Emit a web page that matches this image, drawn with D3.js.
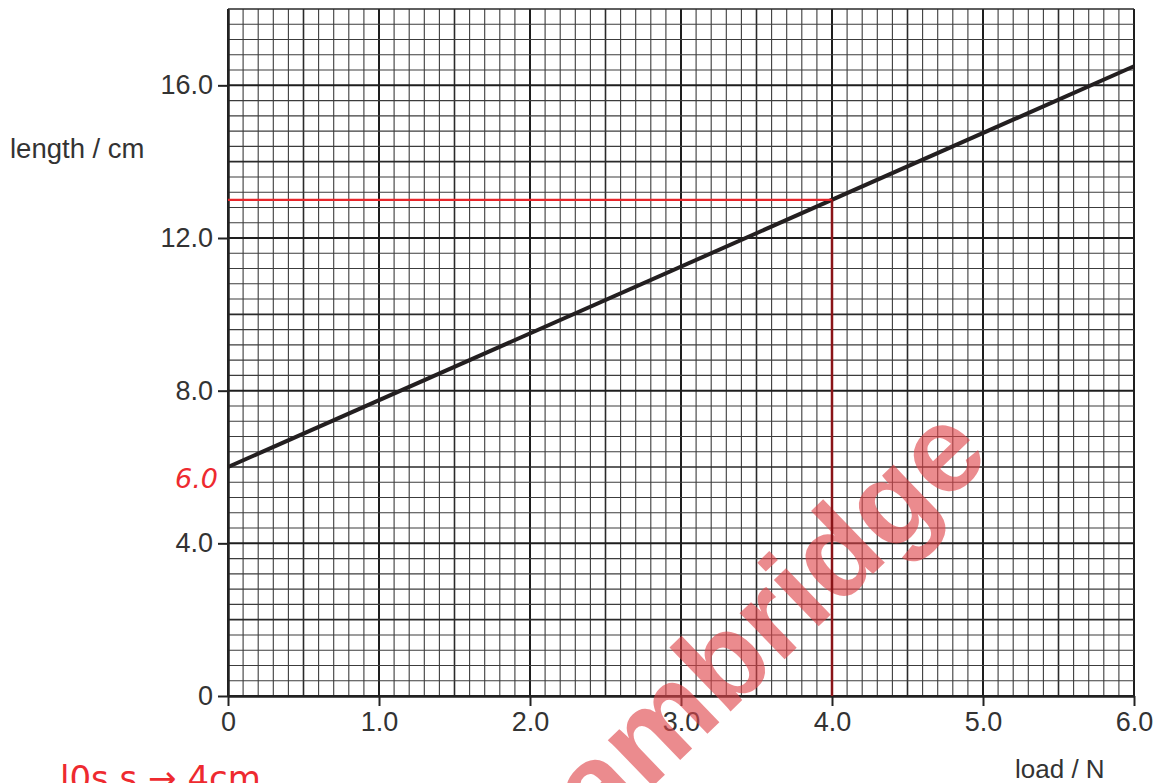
<!DOCTYPE html>
<html>
<head>
<meta charset="utf-8">
<script src="https://cdn.jsdelivr.net/npm/d3@7"></script>
<style>
  html, body { margin: 0; padding: 0; background: #ffffff; }
  svg { display: block; }
</style>
</head>
<body>
<div id="chart"></div>
<script>
// Data
const loads = [0, 6.0];          // load / N
const lengths = [6.0, 16.5];     // length / cm
const readLoad = 4.0;            // construction line read-off
const readLength = 13.0;
const interceptLabel = "6.0";
const xTicks = [0, 1, 2, 3, 4, 5, 6];
const xTickLabels = ["0", "1.0", "2.0", "3.0", "4.0", "5.0", "6.0"];
const yTicks = [0, 4, 8, 12, 16];
const yTickLabels = ["0", "4.0", "8.0", "12.0", "16.0"];

// Dimensions
const width = 1160;
const height = 783;
const margin = { top: 9, right: 26, bottom: 87, left: 228 };

const svg = d3.select("#chart")
  .append("svg")
  .attr("width", width)
  .attr("height", height)
  .style("background", "#ffffff");

// Scales
const x = d3.scaleLinear()
  .domain([0, 6])
  .range([margin.left, width - margin.right]);

const y = d3.scaleLinear()
  .domain([0, 18])
  .range([height - margin.bottom, margin.top]);

const font = "'Liberation Sans', Arial, Helvetica, sans-serif";

// Graph paper grid
const grid = svg.append("g").attr("class", "grid");

// vertical lines every 0.1 N
d3.range(0, 61).forEach(i => {
  const major = i % 10 === 0;
  const mid = i % 5 === 0;
  grid.append("line")
    .attr("x1", x(i / 10))
    .attr("x2", x(i / 10))
    .attr("y1", y(0))
    .attr("y2", y(18))
    .attr("stroke", major ? "#1e1e1e" : mid ? "#2a2a2a" : "#3c3c3c")
    .attr("stroke-width", major ? 2 : mid ? 1.6 : 1.1);
});

// horizontal lines every 0.4 cm
d3.range(0, 46).forEach(i => {
  const major = i % 10 === 0;
  const mid = i % 5 === 0;
  grid.append("line")
    .attr("x1", x(0))
    .attr("x2", x(6))
    .attr("y1", y(i * 0.4))
    .attr("y2", y(i * 0.4))
    .attr("stroke", major ? "#1e1e1e" : mid ? "#2a2a2a" : "#3c3c3c")
    .attr("stroke-width", major ? 2 : mid ? 1.6 : 1.1);
});

// X axis
const xAxis = svg.append("g")
  .attr("transform", `translate(0, ${y(0)})`)
  .call(d3.axisBottom(x)
    .tickValues(xTicks)
    .tickFormat((d, i) => xTickLabels[i])
    .tickSize(10)
    .tickSizeOuter(0)
    .tickPadding(6));

xAxis.select(".domain").attr("stroke", "#222").attr("stroke-width", 2.5);
xAxis.selectAll(".tick line").attr("stroke", "#222").attr("stroke-width", 2);
xAxis.selectAll("text")
  .style("font-family", font)
  .style("font-size", "27px")
  .attr("fill", "#333");

// Y axis
const yAxis = svg.append("g")
  .attr("transform", `translate(${x(0)}, 0)`)
  .call(d3.axisLeft(y)
    .tickValues(yTicks)
    .tickFormat((d, i) => yTickLabels[i])
    .tickSize(10)
    .tickSizeOuter(0)
    .tickPadding(5));

yAxis.select(".domain").attr("stroke", "#222").attr("stroke-width", 2.5);
yAxis.selectAll(".tick line").attr("stroke", "#222").attr("stroke-width", 2);
yAxis.selectAll("text")
  .style("font-family", font)
  .style("font-size", "27px")
  .attr("fill", "#333");

// Axis labels
svg.append("text")
  .attr("x", 10)
  .attr("y", 158)
  .style("font-family", font)
  .style("font-size", "27.5px")
  .attr("fill", "#333")
  .text("length / cm");

svg.append("text")
  .attr("x", 1015)
  .attr("y", 778)
  .style("font-family", font)
  .style("font-size", "26px")
  .attr("fill", "#333")
  .text("load / N");

// Watermark
svg.append("text")
  .attr("transform", "translate(993, 458) rotate(-44)")
  .attr("text-anchor", "end")
  .style("font-family", font)
  .style("font-weight", "bold")
  .style("font-size", "122px")
  .attr("fill", "#e0454a")
  .attr("opacity", 0.62)
  .text("Cambridge");

// Best fit line
const line = d3.line()
  .x(d => x(d[0]))
  .y(d => y(d[1]));

svg.append("path")
  .datum(d3.zip(loads, lengths))
  .attr("d", line)
  .attr("fill", "none")
  .attr("stroke", "#231f20")
  .attr("stroke-width", 4);

// Red construction lines
svg.append("line")
  .attr("x1", x(0))
  .attr("x2", x(readLoad))
  .attr("y1", y(readLength))
  .attr("y2", y(readLength))
  .attr("stroke", "#e8262b")
  .attr("stroke-width", 2.2);

svg.append("line")
  .attr("x1", x(readLoad))
  .attr("x2", x(readLoad))
  .attr("y1", y(readLength))
  .attr("y2", y(0))
  .attr("stroke", "#8a1418")
  .attr("stroke-width", 2.5);

// Handwritten annotations
svg.append("text")
  .attr("x", x(0) - 10)
  .attr("y", y(lengths[0]) + 21)
  .attr("text-anchor", "end")
  .style("font-family", "'DejaVu Sans', sans-serif")
  .style("font-style", "italic")
  .style("font-size", "27px")
  .attr("fill", "#ee2a2f")
  .text(interceptLabel);

svg.append("text")
  .attr("x", 60)
  .attr("y", 790)
  .style("font-family", "'DejaVu Sans', sans-serif")
  .style("font-size", "34px")
  .attr("fill", "#ee2a2f")
  .text("l0s.s \u2192 4cm");
</script>
</body>
</html>
